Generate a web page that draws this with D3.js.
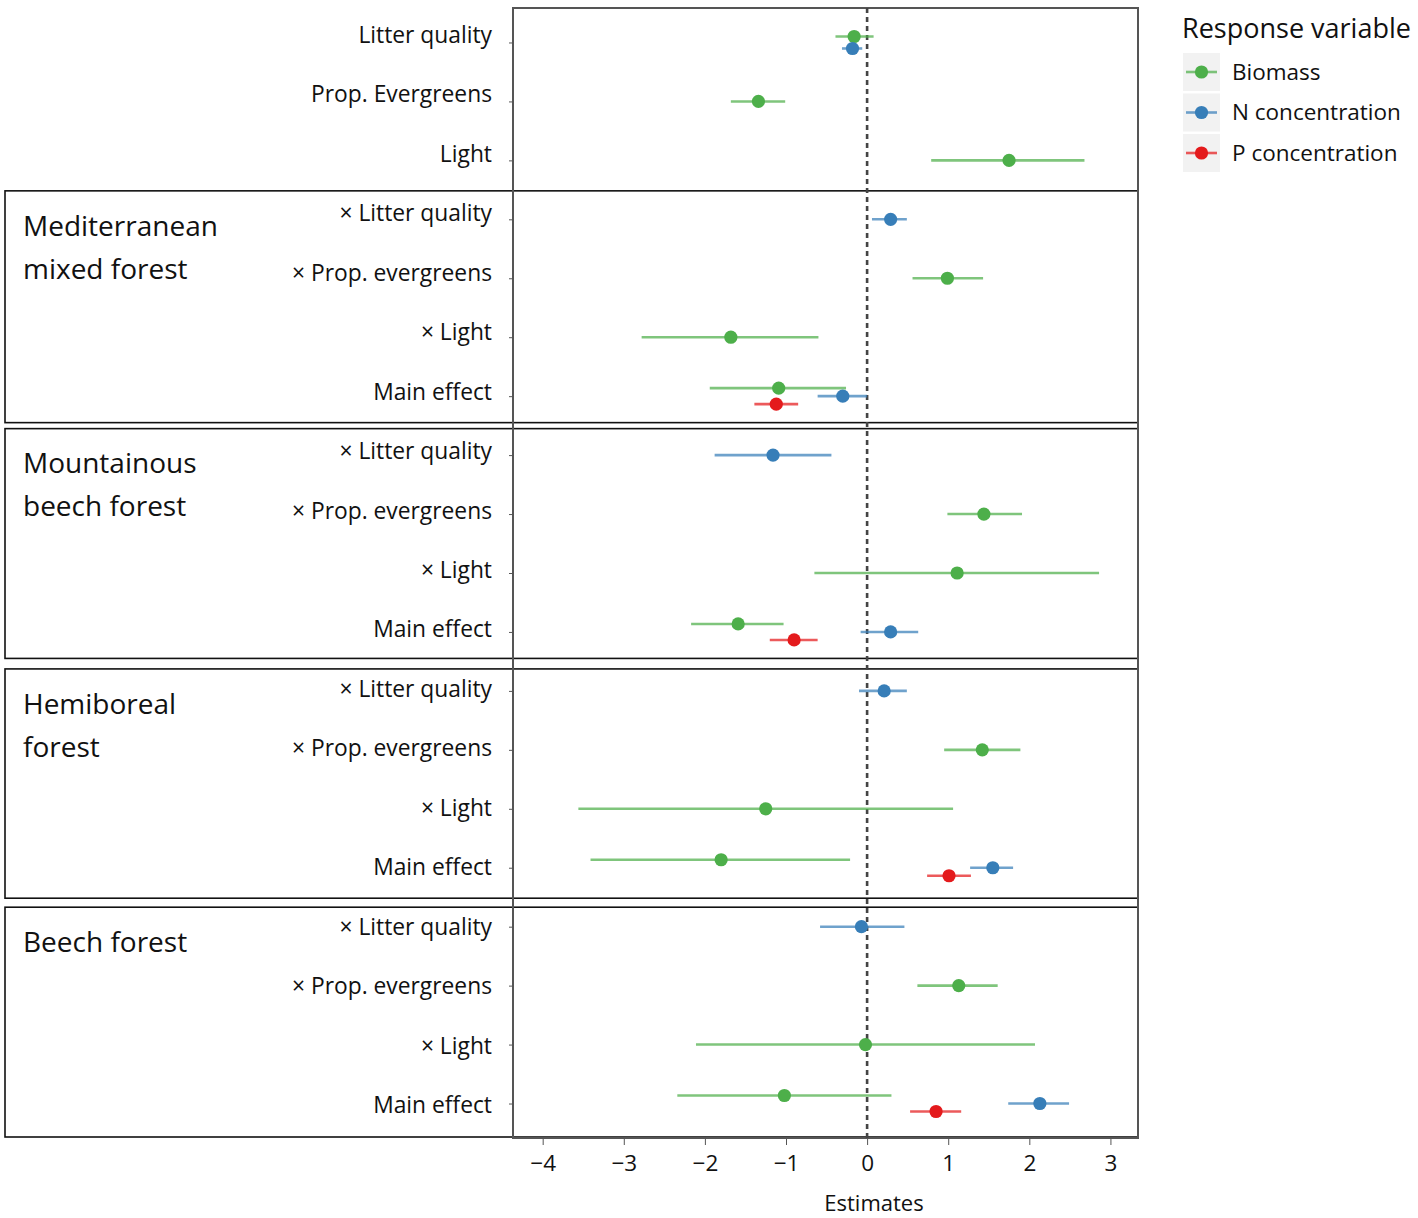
<!DOCTYPE html>
<html><head><meta charset="utf-8">
<script src="https://cdn.jsdelivr.net/npm/d3@7"></script>
<style>body{margin:0;background:#fff;} text{font-family:"Open Sans",sans-serif;fill:#111;}</style>
</head><body><svg id="c" width="1418" height="1218"></svg>
<script>
// ---------- data ----------
const groups = ["", "Mediterranean mixed forest", "Mountainous beech forest", "Hemiboreal forest", "Beech forest"];
const groupLabelLines = [[], ["Mediterranean", "mixed forest"], ["Mountainous", "beech forest"], ["Hemiboreal", "forest"], ["Beech forest"]];
const mainTerms = ["Litter quality", "Prop. Evergreens", "Light"];
const forestTerms = ["× Litter quality", "× Prop. evergreens", "× Light", "Main effect"];
const seriesNames = ["Biomass", "N concentration", "P concentration"];
const seriesColors = ["#4daf4a", "#377eb8", "#e41a1c"];
const xTicks = [-4, -3, -2, -1, 0, 1, 2, 3];
const xTitle = "Estimates";
const legendTitle = "Response variable";

// row indices (0..18) follow the order of the rows built below
const biomassRows = [0, 1, 2, 4, 5, 6, 8, 9, 10, 12, 13, 14, 16, 17, 18];
const biomassEst  = [-0.16, -1.34, 1.75, 0.99, -1.68, -1.09, 1.44, 1.11, -1.59, 1.42, -1.25, -1.80, 1.13, -0.02, -1.02];
const biomassLo   = [-0.39, -1.68, 0.79, 0.56, -2.78, -1.94, 0.99, -0.65, -2.17, 0.95, -3.56, -3.41, 0.62, -2.11, -2.34];
const biomassHi   = [0.08, -1.01, 2.68, 1.43, -0.60, -0.26, 1.91, 2.86, -1.03, 1.89, 1.06, -0.21, 1.61, 2.07, 0.30];

const nRows = [0, 3, 6, 7, 10, 11, 14, 15, 18];
const nEst  = [-0.18, 0.29, -0.30, -1.16, 0.29, 0.21, 1.55, -0.07, 2.13];
const nLo   = [-0.31, 0.06, -0.61, -1.88, -0.08, -0.10, 1.27, -0.58, 1.74];
const nHi   = [-0.06, 0.49, 0.00, -0.44, 0.63, 0.49, 1.80, 0.46, 2.49];

const pRows = [6, 10, 14, 18];
const pEst  = [-1.12, -0.90, 1.01, 0.85];
const pLo   = [-1.39, -1.20, 0.74, 0.53];
const pHi   = [-0.85, -0.61, 1.28, 1.16];

// ---------- layout tweaks (style, not data) ----------
const boxTopShift = [0, -2, 0, 4.5, 7];
const boxBotShift = [0, 0, 0, 4, 0];

// ---------- build ----------
const rows = [];
groups.forEach((g, gi) => {
  const terms = gi === 0 ? mainTerms : forestTerms;
  terms.forEach(t => rows.push({key: gi + "|" + t, label: t, group: gi}));
});
const rowKeys = rows.map(r => r.key);

const seriesData = [
  {rows: biomassRows, est: biomassEst, lo: biomassLo, hi: biomassHi},
  {rows: nRows, est: nEst, lo: nLo, hi: nHi},
  {rows: pRows, est: pEst, lo: pLo, hi: pHi}
];
const points = [];
seriesData.forEach((s, si) => s.rows.forEach((r, i) => points.push({si, row: r, est: s.est[i], lo: s.lo[i], hi: s.hi[i]})));
// dodge
const dodgeW = 24;
d3.group(points, d => d.row).forEach(arr => {
  arr.sort((a, b) => a.si - b.si);
  const n = arr.length;
  arr.forEach((p, i) => p.off = n === 1 ? 0 : -dodgeW / 2 + dodgeW / n * (i + 0.5));
});

const svg = d3.select("#c");
const L = 513, R = 1138, T = 8, B = 1138;
const x = d3.scaleLinear().domain([-4.366, 3.34]).range([L, R]);
const y = d3.scalePoint().domain(rowKeys).range([T, B]).padding(0.585);
const yLab = d3.scalePoint().domain(rowKeys).range([35, 1105]);
const step = y.step();

// group boxes
groups.forEach((g, gi) => {
  if (gi === 0) return;
  const gr = rows.filter(r => r.group === gi);
  const top = y(gr[0].key) - step / 2 + 3 + boxTopShift[gi];
  let bot = y(gr[gr.length - 1].key) + step / 2 - 3 + boxBotShift[gi];
  if (gi === groups.length - 1) bot = B - 1;
  svg.append("rect").attr("x", 5).attr("y", top).attr("width", R - 5).attr("height", bot - top)
    .attr("fill", "none").attr("stroke", "#111").attr("stroke-width", 1.6);
  groupLabelLines[gi].forEach((ln, li) => {
    svg.append("text").attr("x", 23).attr("y", top + 35 + li * 43).attr("dy", "0.35em")
      .attr("font-size", 28).text(ln);
  });
});

// panel border
svg.append("rect").attr("x", L).attr("y", T).attr("width", R - L).attr("height", B - T)
  .attr("fill", "none").attr("stroke", "#555").attr("stroke-width", 2);

// zero line
svg.append("line").attr("x1", x(0)).attr("x2", x(0)).attr("y1", T).attr("y2", B)
  .attr("stroke", "#444").attr("stroke-width", 2.6).attr("stroke-dasharray", "5,4");

// y ticks
const yAxis = svg.append("g").attr("transform", `translate(${L},0)`)
  .call(d3.axisLeft(y).tickSize(4).tickFormat(""));
yAxis.select(".domain").remove();
yAxis.selectAll("line").attr("stroke", "#555");

// row labels
svg.append("g").selectAll("text").data(rows).join("text")
  .attr("x", 492).attr("y", d => yLab(d.key)).attr("dy", "0.35em")
  .attr("text-anchor", "end").attr("font-size", 22.8).text(d => d.label);

// error bars & points
const g = svg.append("g");
g.selectAll("line.err").data(points).join("line").attr("class", "err")
  .attr("x1", d => x(d.lo)).attr("x2", d => x(d.hi))
  .attr("y1", d => y(rowKeys[d.row]) + d.off).attr("y2", d => y(rowKeys[d.row]) + d.off)
  .attr("stroke", d => seriesColors[d.si]).attr("stroke-opacity", 0.72).attr("stroke-width", 2.6);
g.selectAll("circle").data(points).join("circle")
  .attr("cx", d => x(d.est)).attr("cy", d => y(rowKeys[d.row]) + d.off).attr("r", 6.6)
  .attr("fill", d => seriesColors[d.si]);

// x axis
const xa = svg.append("g").attr("transform", `translate(0,${B})`)
  .call(d3.axisBottom(x).tickValues(xTicks).tickSize(7).tickPadding(10));
xa.select(".domain").remove();
xa.selectAll("line").attr("stroke", "#555");
xa.selectAll("text").attr("font-size", 22.5).attr("font-family", "Open Sans").attr("fill", "#111");
svg.append("text").attr("x", 874).attr("y", 1203).attr("dy", "0.35em").attr("text-anchor", "middle")
  .attr("font-size", 22).text(xTitle);

// legend
svg.append("text").attr("x", 1182).attr("y", 29).attr("dy", "0.35em").attr("font-size", 27).text(legendTitle);
const lg = svg.append("g").selectAll("g").data(seriesNames).join("g")
  .attr("transform", (d, i) => `translate(1183,${72 + i * 40.5})`);
lg.append("rect").attr("x", 0).attr("y", -19).attr("width", 37).attr("height", 38).attr("fill", "#f2f2f2");
lg.append("line").attr("x1", 3).attr("x2", 34).attr("stroke", (d, i) => seriesColors[i])
  .attr("stroke-opacity", 0.72).attr("stroke-width", 2.6);
lg.append("circle").attr("cx", 18.5).attr("r", 6.6).attr("fill", (d, i) => seriesColors[i]);
lg.append("text").attr("x", 49).attr("dy", "0.35em").attr("font-size", 22.5).text(d => d);
</script></body></html>
